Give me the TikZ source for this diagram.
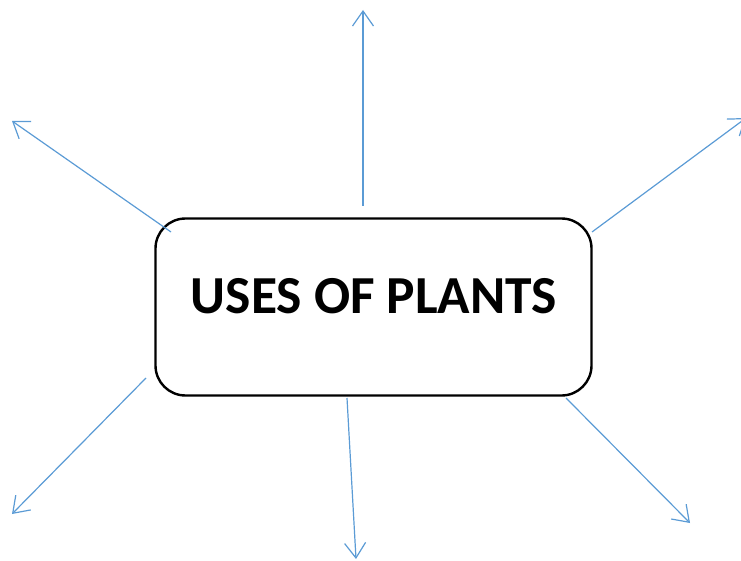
\documentclass[tikz,border=0pt]{standalone}
\usepackage{fontspec}
\setmainfont{Carlito}
\usetikzlibrary{arrows.meta}
\definecolor{arrowblue}{RGB}{91,155,213}
\tikzset{
  ray/.style={draw=arrowblue, line width=1.2pt, -{Straight Barb[length=15pt,width=21pt,line width=1.2pt]}},
  mainbox/.style={draw=black, line width=2.4pt, rounded corners=30pt, minimum width=436pt, minimum height=177pt, inner sep=0pt},
  title/.style={font=\fontsize{53.5}{62}\selectfont\bfseries, inner sep=0pt}
}
\begin{document}
\begin{tikzpicture}[x=1pt,y=-1pt]
\useasboundingbox (0,0) rectangle (741,561);
\clip (0,0) rectangle (741,561);
\node[mainbox] (box) at (373.5,307) {};
\node[title] (t) at (374,296) {USES OF PLANTS};
\coordinate (s1) at (363,206); \coordinate (e1) at (363,10);
\coordinate (s2) at (171,232); \coordinate (e2) at (12,121);
\coordinate (s3) at (592,232); \coordinate (e3) at (746,118);
\coordinate (s4) at (146,378); \coordinate (e4) at (12,514);
\coordinate (s5) at (347,398); \coordinate (e5) at (356,559);
\coordinate (s6) at (566,398); \coordinate (e6) at (690,523);
\draw[ray] (s1) -- (e1);
\draw[ray] (s2) -- (e2);
\draw[ray] (s3) -- (e3);
\draw[ray] (s4) -- (e4);
\draw[ray] (s5) -- (e5);
\draw[ray] (s6) -- (e6);
\end{tikzpicture}
\end{document}
